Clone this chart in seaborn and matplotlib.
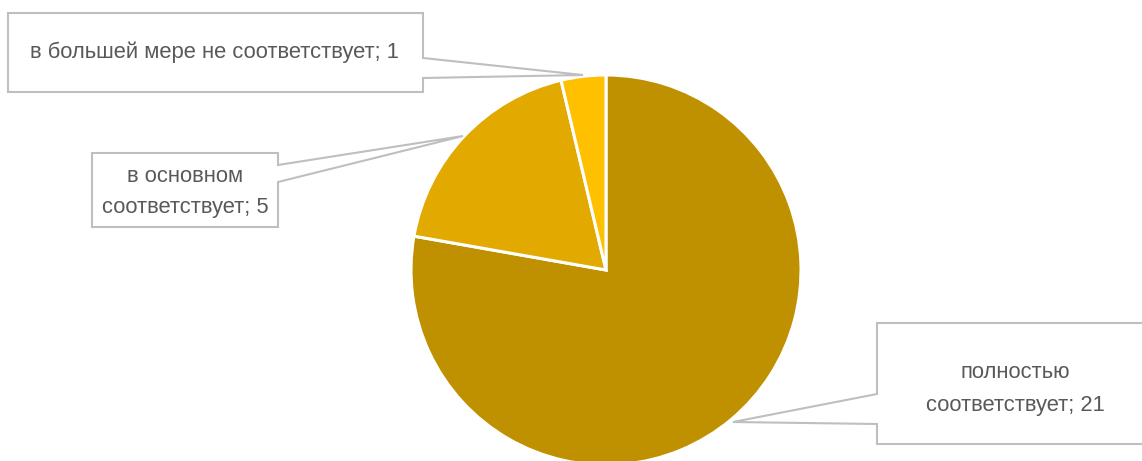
import matplotlib
matplotlib.use("Agg")
import matplotlib.pyplot as plt
import seaborn as sns
import numpy as np
from matplotlib.patches import Polygon

sns.set_theme(style="white")
plt.rcParams['font.family'] = ['Liberation Sans', 'DejaVu Sans']

categories = ["полностью\nсоответствует", "в основном\nсоответствует", "в большей мере не соответствует"]
values = [21, 5, 1]
colors = ["#BF9000", "#E2A900", "#FFC000"]

W, H = 1142, 461
fig = plt.figure(figsize=(W / 100, H / 100), dpi=100)
ax = fig.add_axes([0, 0, 1, 1])

cx, cy, r = 606, H - 270, 195
wedges, _ = ax.pie(values, colors=colors, startangle=90, counterclock=False,
                   center=(cx, cy), radius=r, frame=True,
                   wedgeprops=dict(edgecolor="white", linewidth=2.2))
ax.set_xlim(0, W)
ax.set_ylim(0, H)
ax.set_aspect("equal")
ax.axis("off")

edge = "#BFBFBF"
txtc = "#595959"
fs = 15.8

def callout(x0, y0, x1, y1, side, n0, n1, tip, lines, tx, ty, dy):
    Y = lambda y: H - y
    tipx, tipy = tip
    if side == "right":
        pts = [(x0, Y(y0)), (x1, Y(y0)), (x1, Y(n0)), (tipx, tipy), (x1, Y(n1)),
               (x1, Y(y1)), (x0, Y(y1))]
    else:
        pts = [(x0, Y(y0)), (x1, Y(y0)), (x1, Y(y1)), (x0, Y(y1)), (x0, Y(n1)),
               (tipx, tipy), (x0, Y(n0))]
    ax.add_patch(Polygon(pts, closed=True, facecolor="white", edgecolor=edge,
                         linewidth=1.5, zorder=5, clip_on=False))
    for k, line in enumerate(lines):
        ax.text(tx, Y(ty + k * dy), line, ha="center", va="center",
                fontsize=fs, color=txtc, zorder=6)

callout(8, 13, 423, 92, "right", 58, 78, (583, H - 75),
        [f"{categories[2]}; {values[2]}"], 215, 52, 0)
callout(92, 153, 278, 227, "right", 165, 182, (463, H - 136),
        ["в основном", f"соответствует; {values[1]}"], 185, 176, 32)
callout(877, 323, 1150, 444, "left", 394, 424, (733, H - 422),
        ["полностью", f"соответствует; {values[0]}"], 1015, 373, 33)

fig.savefig("out.png", dpi=100)
